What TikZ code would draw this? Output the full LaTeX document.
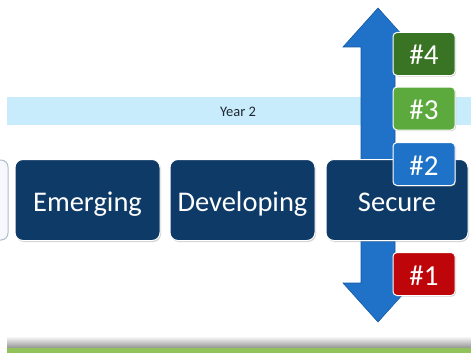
\documentclass[tikz,border=0pt]{standalone}
\usepackage{fontspec}
\setmainfont{Carlito}
\usetikzlibrary{shadows}
\definecolor{navy}{RGB}{14,58,104}
\definecolor{bandblue}{RGB}{200,236,251}
\definecolor{arrowblue}{RGB}{31,114,200}
\definecolor{arrowedge}{RGB}{22,88,165}
\definecolor{gdark}{RGB}{56,116,36}
\definecolor{glight}{RGB}{92,170,62}
\definecolor{bbadge}{RGB}{30,114,200}
\definecolor{rbadge}{RGB}{190,6,10}
\definecolor{bottomgreen}{RGB}{146,194,92}
\definecolor{yeartext}{RGB}{30,40,50}
\tikzset{
  levelbox/.style={fill=navy, draw=white, line width=1pt, rounded corners=8pt,
    drop shadow={shadow xshift=1pt, shadow yshift=-1.5pt, opacity=0.35},
    text=white, font=\fontsize{28.5}{30}\selectfont, inner sep=0pt,
    text height=23pt, text depth=0pt},
  badge/.style={draw=white, line width=1pt, rounded corners=4pt,
    drop shadow={shadow xshift=1pt, shadow yshift=-1pt, opacity=0.4},
    text=white, font=\fontsize{29}{30}\selectfont, inner sep=0pt,
    text height=22pt, text depth=0pt,
    minimum width=62pt, minimum height=43pt},
}
\begin{document}
\begin{tikzpicture}[x=1pt,y=-1pt]
\useasboundingbox (0,0) rectangle (471,353);
\fill[white] (0,0) rectangle (471,353);
% year band
\fill[bandblue] (7,97) rectangle (471,125);
\node[text=yeartext, font=\fontsize{14.5}{15}\selectfont] (year) at (238,112) {Year 2};
% bottom band with shadow
\shade[top color=white, bottom color=gray!85] (7,336) rectangle (471,348);
\fill[bottomgreen] (7,348) rectangle (471,353);
% partial left box
\draw[fill=white!97!blue, draw=bandblue!60!gray, line width=1pt, rounded corners=7pt]
  (-20,160) rectangle (8,240);
% double arrow
\fill[arrowblue, draw=arrowedge, line width=0.6pt]
  (378,8) -- (413,47) -- (395,47) -- (395,283) -- (413,283) -- (378,322)
  -- (343,283) -- (361,283) -- (361,47) -- (343,47) -- cycle;
% level boxes
\node[levelbox, minimum width=145pt, minimum height=81pt] (emerging) at (87.5,200) {Emerging};
\node[levelbox, minimum width=145pt, minimum height=81pt] (developing) at (242.5,200) {Developing};
\node[levelbox, minimum width=142pt, minimum height=81pt] (secure) at (397,200) {Secure};
% badges
\node[badge, fill=gdark] (b4) at (424,54) {\#4};
\node[badge, fill=glight] (b3) at (424,108.5) {\#3};
\node[badge, fill=bbadge] (b2) at (424,164) {\#2};
\node[badge, fill=rbadge] (b1) at (424,274) {\#1};
\end{tikzpicture}
\end{document}
